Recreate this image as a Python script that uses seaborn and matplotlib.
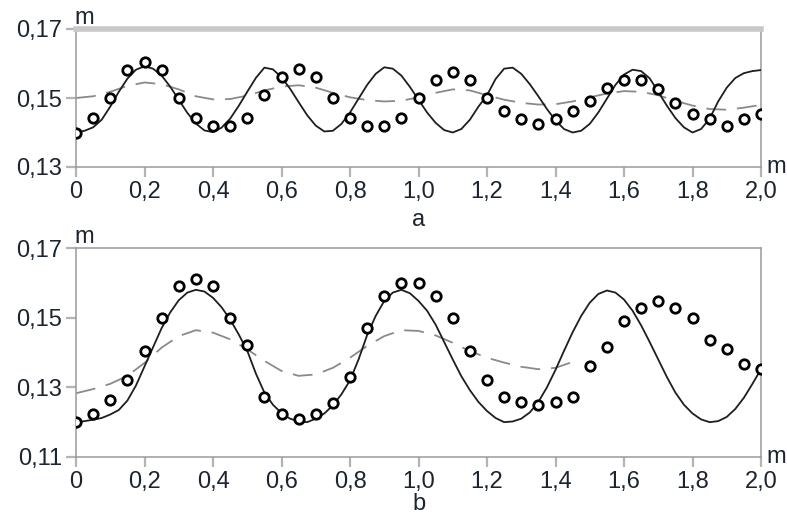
import matplotlib
matplotlib.use("Agg")
import matplotlib.pyplot as plt
import seaborn as sns
import numpy as np

sns.set_theme(style="ticks")
plt.rcParams['font.family'] = ['Liberation Sans', 'DejaVu Sans']

# ---- data ----
x_pts = np.round(np.arange(0, 2.0001, 0.05), 3)
x_fine = np.round(np.arange(0, 2.0001, 0.025), 3)
x_dash_b = np.round(np.arange(0, 1.4501, 0.05), 3)

# panel a
a_points = [0.1400, 0.1442, 0.1500, 0.1582, 0.1603, 0.1582, 0.1500, 0.1442, 0.1420, 0.1420,
            0.1442, 0.1509, 0.1562, 0.1584, 0.1562, 0.1500, 0.1442, 0.1420, 0.1420, 0.1442,
            0.1500, 0.1552, 0.1574, 0.1552, 0.1500, 0.1462, 0.1438, 0.1425, 0.1439, 0.1462,
            0.1490, 0.1530, 0.1552, 0.1552, 0.1526, 0.1486, 0.1454, 0.1438, 0.1420, 0.1438,
            0.1454]
a_solid = [0.1400, 0.1405, 0.1415, 0.1437, 0.1475, 0.1518, 0.1556, 0.1582, 0.1592, 0.1585,
           0.1565, 0.1533, 0.1495, 0.1457, 0.1426, 0.1406, 0.1401, 0.1414, 0.1440, 0.1477,
           0.1518, 0.1558, 0.1588, 0.1583, 0.1560, 0.1527, 0.1488, 0.1450, 0.1420, 0.1403,
           0.1405, 0.1425, 0.1458, 0.1498, 0.1538, 0.1570, 0.1589, 0.1585, 0.1565, 0.1532,
           0.1495, 0.1458, 0.1428, 0.1407, 0.1400, 0.1410, 0.1437, 0.1475, 0.1508, 0.1555,
           0.1585, 0.1588, 0.1570, 0.1540, 0.1505, 0.1468, 0.1435, 0.1410, 0.1400, 0.1405,
           0.1425, 0.1458, 0.1498, 0.1538, 0.1568, 0.1582, 0.1578, 0.1557, 0.1518, 0.1478,
           0.1442, 0.1415, 0.1400, 0.1410, 0.1440, 0.1490, 0.1530, 0.1558, 0.1572, 0.1578,
           0.1581]
a_dashed = [0.1500, 0.1505, 0.1518, 0.1535, 0.1545, 0.1540, 0.1525, 0.1505, 0.1496, 0.1497,
            0.1507, 0.1522, 0.1533, 0.1537, 0.1530, 0.1515, 0.1502, 0.1494, 0.1490, 0.1492,
            0.1502, 0.1515, 0.1525, 0.1522, 0.1508, 0.1495, 0.1486, 0.1481, 0.1482, 0.1490,
            0.1502, 0.1513, 0.1520, 0.1518, 0.1508, 0.1492, 0.1478, 0.1468, 0.1466, 0.1472,
            0.1480]

# panel b
b_points = [0.1200, 0.1224, 0.1264, 0.1321, 0.1404, 0.1500, 0.1591, 0.1610, 0.1591, 0.1500,
            0.1422, 0.1272, 0.1224, 0.1208, 0.1224, 0.1254, 0.1331, 0.1469, 0.1562, 0.1600,
            0.1600, 0.1562, 0.1500, 0.1404, 0.1321, 0.1272, 0.1259, 0.1249, 0.1259, 0.1273,
            0.1361, 0.1417, 0.1490, 0.1529, 0.1549, 0.1529, 0.1500, 0.1436, 0.1409, 0.1366,
            0.1352]
b_solid = [0.1200, 0.1203, 0.1207, 0.1212, 0.1222, 0.1235, 0.1262, 0.1305, 0.1360, 0.1415,
           0.1470, 0.1515, 0.1550, 0.1572, 0.1580, 0.1575, 0.1557, 0.1530, 0.1495, 0.1452,
           0.1405, 0.1340, 0.1285, 0.1250, 0.1226, 0.1210, 0.1202, 0.1200, 0.1210, 0.1225,
           0.1248, 0.1280, 0.1320, 0.1380, 0.1450, 0.1505, 0.1548, 0.1572, 0.1580, 0.1570,
           0.1548, 0.1520, 0.1480, 0.1430, 0.1380, 0.1332, 0.1292, 0.1258, 0.1232, 0.1212,
           0.1200, 0.1202, 0.1210, 0.1228, 0.1258, 0.1300, 0.1350, 0.1405, 0.1458, 0.1505,
           0.1543, 0.1568, 0.1578, 0.1572, 0.1552, 0.1520, 0.1478, 0.1430, 0.1380, 0.1330,
           0.1285, 0.1250, 0.1225, 0.1208, 0.1200, 0.1203, 0.1215, 0.1238, 0.1270, 0.1310,
           0.1352]
b_dashed = [0.1283, 0.1295, 0.1310, 0.1333, 0.1370, 0.1414, 0.1447, 0.1464, 0.1457, 0.1438,
            0.1409, 0.1376, 0.1347, 0.1333, 0.1337, 0.1356, 0.1385, 0.1419, 0.1447, 0.1464,
            0.1462, 0.1449, 0.1428, 0.1404, 0.1385, 0.1371, 0.1359, 0.1352, 0.1356, 0.1373]

x_ticks = [0, 0.2, 0.4, 0.6, 0.8, 1.0, 1.2, 1.4, 1.6, 1.8, 2.0]
x_ticklabels = ['0', '0,2', '0,4', '0,6', '0,8', '1,0', '1,2', '1,4', '1,6', '1,8', '2,0']
a_yticks = [0.13, 0.15, 0.17]
b_yticks = [0.11, 0.13, 0.15, 0.17]

W, H = 787, 515
fig = plt.figure(figsize=(W / 100, H / 100), dpi=100)
ax_a = fig.add_axes([76 / W, 1 - 167 / H, 685 / W, 138 / H])
ax_b = fig.add_axes([76 / W, 1 - 457 / H, 685 / W, 209 / H])

txt = '#1c2430'
spine_c = '#9a9a9a'
fs = 17


def draw(ax, solid, dashed, xd, pts, ylim, yticks, letter, letter_y):
    sns.lineplot(x=xd, y=dashed, ax=ax, color='#8a8a8a', linewidth=1.3,
                 linestyle=(0, (11, 6)), zorder=2)
    sns.lineplot(x=x_fine, y=solid, ax=ax, color='#1e1e1e', linewidth=1.3, zorder=3)
    sns.lineplot(x=x_pts, y=pts, ax=ax, linestyle='', marker='o', markersize=6.8,
                 markerfacecolor='white', markeredgecolor='black', markeredgewidth=2.0,
                 zorder=4)
    ax.set_xlim(0, 2.0)
    ax.set_ylim(*ylim)
    ax.set_xticks(x_ticks)
    ax.set_xticklabels(x_ticklabels)
    ax.set_yticks(yticks)
    ax.set_yticklabels([f"{v:.2f}".replace('.', ',') for v in yticks])
    ax.tick_params(axis='both', length=7, width=1.6, color='#b4b4b4', labelsize=fs,
                   labelcolor=txt, direction='out')
    ax.tick_params(axis='x', pad=3)
    ax.tick_params(axis='y', pad=3)
    ax.set_xlabel('')
    ax.set_ylabel('')
    ax.grid(False)
    for s in ax.spines.values():
        s.set_color(spine_c)
        s.set_linewidth(1.1)
    ax.text(-0.002, 1.0, 'm', transform=ax.transAxes, fontsize=fs, color=txt,
            ha='left', va='bottom')
    ax.text(1.008, 0.0, 'm', transform=ax.transAxes, fontsize=fs, color=txt,
            ha='left', va='center')
    ax.text(0.5, letter_y, letter, transform=ax.transAxes,
            fontsize=fs, color=txt, ha='center', va='center')


draw(ax_a, a_solid, a_dashed, x_pts, a_points, (0.13, 0.17), a_yticks, 'a', -0.385)
draw(ax_b, b_solid, b_dashed, x_dash_b, b_points, (0.11, 0.17), b_yticks, 'b', -0.225)

ax_a.spines['top'].set_color('#c8c8c8')
ax_a.spines['top'].set_linewidth(4)

fig.savefig('out.png', dpi=100)
